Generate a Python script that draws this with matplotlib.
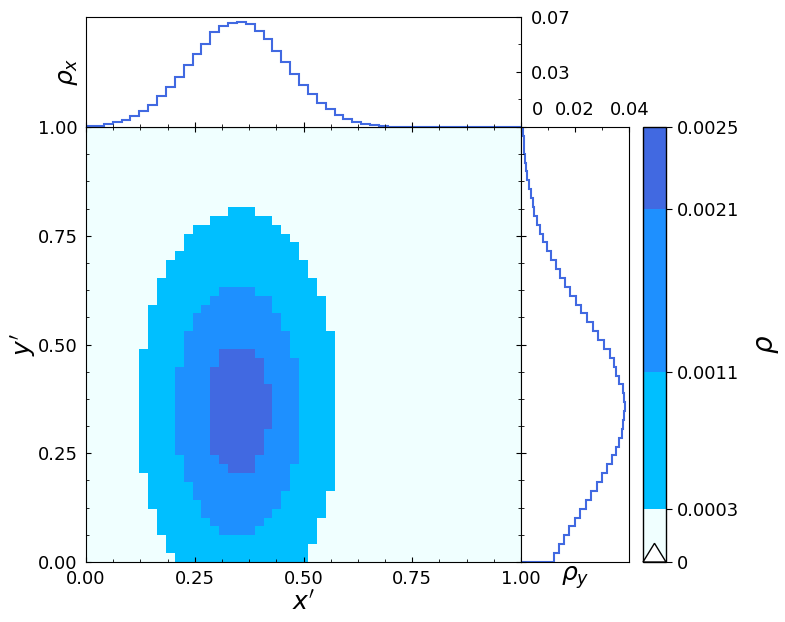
import numpy as np
import matplotlib
matplotlib.use("Agg")
import matplotlib.pyplot as plt
from matplotlib.colors import ListedColormap, BoundaryNorm
from matplotlib.patches import Polygon
from matplotlib.ticker import AutoMinorLocator, FixedLocator

# ---- data ----
# marginal distribution along x' (49 bins on [0, 1])
rho_x = [0.0004, 0.0008, 0.0017, 0.0029, 0.0044, 0.0067, 0.0098, 0.0139, 0.0190, 0.0247,
         0.0313, 0.0387, 0.0453, 0.0518, 0.0587, 0.0626, 0.0647, 0.0653, 0.0640, 0.0599,
         0.0545, 0.0474, 0.0405, 0.0332, 0.0262, 0.0205, 0.0152, 0.0112, 0.0075, 0.0048,
         0.0032, 0.0018, 0.0010, 0.0005, 0.0003, 0.00015, 0.0001, 0.0, 0.0, 0.0,
         0.0, 0.0, 0.0, 0.0, 0.0, 0.0, 0.0, 0.0, 0.0]
# marginal distribution along y' (49 bins on [0, 1], from bottom to top)
rho_y = [0.01235, 0.01409, 0.01596, 0.01794, 0.02005, 0.02207, 0.02418, 0.02616, 0.02843, 0.03042,
         0.03228, 0.03420, 0.03564, 0.03653, 0.03762, 0.03827, 0.03864, 0.03876, 0.03839, 0.03800,
         0.03665, 0.03564, 0.03460, 0.03310, 0.03090, 0.02892, 0.02693, 0.02479, 0.02256, 0.02070,
         0.01843, 0.01656, 0.01470, 0.01296, 0.01134, 0.00984, 0.00822, 0.00709, 0.00585, 0.00492,
         0.00437, 0.00360, 0.00300, 0.00235, 0.00186, 0.00162, 0.00126, 0.00101, 0.00073]
levels = [0.0, 0.00031, 0.00111, 0.00206, 0.00254]
level_labels = ["0", "0.0003", "0.0011", "0.0021", "0.0025"]
level_colors = ["#F0FFFF", "#00BFFF", "#1E90FF", "#4169E1"]
main_ticks = [0.0, 0.25, 0.5, 0.75, 1.0]
main_ticklabels = ["0.00", "0.25", "0.50", "0.75", "1.00"]
top_max = 0.0685      # upper limit of the rho_x axis
right_max = 0.0405    # upper limit of the rho_y axis
top_ticklabels = ["0.03", "0.07"]
right_ticklabels = ["0.02", "0.04"]

rho_x = np.array(rho_x)
rho_y = np.array(rho_y)
rho = np.outer(rho_y, rho_x)
edges = np.linspace(0, 1, len(rho_x) + 1)

W, H = 785, 622
fig = plt.figure(figsize=(W / 100, H / 100), dpi=100)

def rect(x0, y0, x1, y1):
    return [x0 / W, 1 - y1 / H, (x1 - x0) / W, (y1 - y0) / H]

ax = fig.add_axes(rect(86, 127, 521, 562))
ax_top = fig.add_axes(rect(86, 16.7, 521, 127))
ax_right = fig.add_axes(rect(521, 127, 629.3, 562))
cax = fig.add_axes(rect(643, 127, 666, 562))

FS = 13
LFS = 18
line_color = "#4169E1"

cmap = ListedColormap(level_colors)
norm = BoundaryNorm(levels, cmap.N)
mesh = ax.pcolormesh(edges, edges, rho, cmap=cmap, norm=norm)
ax.set_xlim(0, 1)
ax.set_ylim(0, 1)
ax.set_xticks(main_ticks)
ax.set_xticklabels(main_ticklabels)
ax.set_yticks(main_ticks)
ax.set_yticklabels(main_ticklabels)
ax.xaxis.set_minor_locator(AutoMinorLocator(4))
ax.yaxis.set_minor_locator(AutoMinorLocator(4))
ax.tick_params(which="both", direction="in", top=True, right=True, labelsize=FS, pad=6)
ax.set_xlabel(r"$x'$", fontsize=LFS, labelpad=2)
ax.set_ylabel(r"$y'$", fontsize=LFS, labelpad=0)

# top marginal
ax_top.stairs(rho_x, edges, color=line_color, lw=1.5, baseline=0)
ax_top.set_xlim(0, 1)
ax_top.set_ylim(0, top_max)
ax_top.set_xticks(main_ticks)
ax_top.xaxis.set_minor_locator(AutoMinorLocator(4))
ax_top.set_yticks([top_max * 0.5, top_max])
ax_top.set_yticklabels(top_ticklabels)
ax_top.yaxis.set_minor_locator(FixedLocator([0, top_max * 0.25, top_max * 0.75]))
ax_top.yaxis.tick_right()
ax_top.tick_params(which="both", direction="in", labelbottom=False, left=False,
                   labelleft=False, labelsize=FS, pad=7)
ax_top.set_ylabel(r"$\rho_x$", fontsize=LFS, labelpad=4)
ax_top.yaxis.set_label_position("left")

# right marginal
ax_right.stairs(rho_y, edges, orientation="horizontal", color=line_color, lw=1.5, baseline=0)
ax_right.set_ylim(0, 1)
ax_right.set_xlim(0, right_max)
ax_right.set_xticks([right_max * 0.5, right_max])
ax_right.set_xticklabels(right_ticklabels)
ax_right.xaxis.set_minor_locator(FixedLocator([0, right_max * 0.25, right_max * 0.75]))
ax_right.xaxis.tick_top()
ax_right.set_yticks(main_ticks)
ax_right.yaxis.set_minor_locator(AutoMinorLocator(4))
ax_right.tick_params(which="both", direction="in", labelleft=False, bottom=False,
                     labelbottom=False, labelsize=FS, pad=6)
ax_right.set_xlabel(r"$\rho_y$", fontsize=LFS, labelpad=2)
ax_right.annotate("0", xy=(0, 1), xycoords="axes fraction", xytext=(7.5, 6),
                  textcoords="offset points", ha="left", va="bottom", fontsize=FS)

# colorbar
cb = fig.colorbar(mesh, cax=cax, spacing="proportional", ticks=levels)
cb.set_ticklabels(level_labels)
cb.ax.tick_params(labelsize=FS, length=4)
cb.outline.set_linewidth(1.0)
cb.set_label(r"$\rho$", fontsize=LFS + 2, labelpad=10)
cax.add_patch(Polygon([(0.0, 0.0), (1.0, 0.0), (0.5, 0.043)], closed=True,
                      transform=cax.transAxes, facecolor="white", edgecolor="black",
                      lw=1.0, clip_on=False, zorder=5))

fig.savefig("out.png", dpi=100)
